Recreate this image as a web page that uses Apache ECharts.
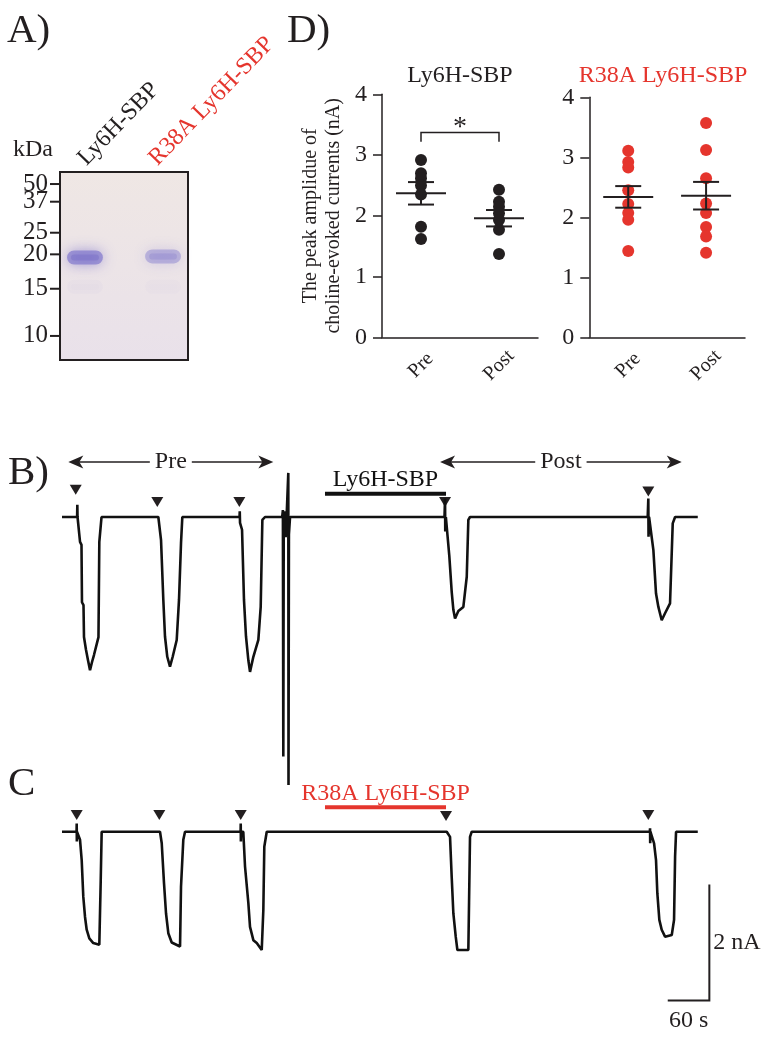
<!DOCTYPE html>
<html><head><meta charset="utf-8">
<script src="https://cdn.jsdelivr.net/npm/echarts/dist/echarts.min.js"></script>
<style>html,body{margin:0;padding:0;background:#fff}#c{width:767px;height:1038px}</style>
</head><body><div id="c"></div>
<script>
const FONT = '"Liberation Serif","Times New Roman",serif';
const INK = '#231f20';
const RED = '#e5352d';

// ---------- Panel A : gel ----------
const lanes = ['Ly6H-SBP', 'R38A Ly6H-SBP'];
const ladderKDa = [50, 37, 25, 20, 15, 10];
const ladderRf = [0.064, 0.158, 0.323, 0.438, 0.621, 0.872];
const bandLane = [0, 1, 0, 1];
const bandRf = [0.455, 0.449, 0.61, 0.61];
const bandIntensity = [0.95, 0.6, 0.04, 0.03];

// ---------- Panel D : peak amplitudes (nA) ----------
const groups = ['Pre', 'Post'];
const ly6hPre = [2.92, 2.70, 2.62, 2.50, 2.35, 1.82, 1.62];
const ly6hPost = [2.43, 2.23, 2.15, 2.04, 1.93, 1.77, 1.37];
const ly6hMean = [2.37, 1.96];
const ly6hSem = [0.185, 0.135];
const r38aPre = [3.11, 2.92, 2.83, 2.45, 2.22, 2.07, 1.96, 1.44];
const r38aPost = [3.57, 3.12, 2.65, 2.23, 2.07, 1.84, 1.68, 1.41];
const r38aMean = [2.34, 2.36];
const r38aSem = [0.18, 0.23];
const yTicksD = [0, 1, 2, 3, 4];
const sigBracket = [0, 1, 3.22, 3.37];

// ---------- Panels B / C : current traces (time s, current nA) ----------
const traceB = [
[0,0],[21.8,0],[22.1,0.21],[22.4,0],[23.8,0],[26.0,-0.43],[28.1,-0.48],[28.8,-1.47],[31.0,-1.52],[31.7,-2.07],[34.6,-2.29],[37.5,-2.47],[40.4,-2.64],[43.3,-2.50],[46.1,-2.38],[50.5,-2.17],[52.6,-2.07],[53.8,-0.43],[55.5,-0.40],[57.0,0],
[138.9,0],[142.8,-0.40],[146.1,-1.43],[148.5,-2.06],[151.8,-2.41],[155.7,-2.58],[159.6,-2.41],[165.4,-2.12],[168.7,-1.43],[171.6,-0.45],[173.5,0],
[256.0,0],[256.3,0.1],[256.7,-0.1],[259.6,-0.22],[262.4,-1.43],[265.3,-2.06],[268.7,-2.47],[271.1,-2.67],[275.9,-2.41],[283.1,-2.12],[286.5,-1.55],[288.9,-0.05],[292.7,0],
[317.5,0],[318.5,0.12],[319.1,-4.13],[319.7,-0.3],[321.0,0.1],[322.5,-0.35],[324.0,0.05],[326.3,0.76],[326.6,-4.62],[327.2,-0.3],[328.8,0],
[551.5,0],[552.3,0.32],[552.6,-0.25],[553.5,0],[554.7,0],[558.5,-0.68],[561.9,-1.29],[564.3,-1.60],[566.7,-1.75],[571.5,-1.62],[578.7,-1.55],[583.6,-1.03],[585.9,-0.05],[588.3,0],
[844.5,0],[845.4,0.32],[845.7,-0.34],[846.5,0],[848.9,0],[852.7,-0.57],[856.5,-1.32],[859.9,-1.55],[864.7,-1.78],[869.5,-1.66],[876.7,-1.49],[880.6,-0.11],[884.0,0],[916.7,0]
];
const traceC = [
[0,0],[21.0,0],[21.2,0.14],[21.4,-0.17],[21.6,0],[23.5,0],[26.0,-0.14],[28.4,-0.49],[30.7,-1.12],[33.2,-1.47],[35.6,-1.69],[39.4,-1.84],[45.1,-1.92],[53.8,-1.95],[55.8,-0.86],[57.2,0],[59.6,0],
[141.3,0],[143.8,-0.20],[147.1,-0.89],[150.0,-1.41],[153.3,-1.75],[158.2,-1.91],[170.2,-1.98],[171.6,-0.95],[174.9,-0.14],[177.4,0],
[257.5,0],[257.7,0.14],[257.9,-0.17],[258.1,0],[261.4,0],[263.9,-0.60],[268.7,-1.23],[271.1,-1.64],[275.9,-1.87],[280.8,-1.92],[288.0,-2.04],[290.3,-1.35],[291.7,-0.26],[295.2,0],
[554.7,0],[559.5,-0.09],[561.9,-0.78],[564.3,-1.41],[567.7,-1.81],[570.1,-2.04],[585.9,-2.04],[586.9,-1.23],[588.3,-0.09],[590.8,0],
[847.6,0],[847.9,0.06],[848.1,-0.20],[848.4,0],[850.3,0],[853.7,-0.20],[856.5,-0.49],[858.4,-1.06],[861.3,-1.52],[864.7,-1.69],[869.5,-1.81],[879.2,-1.78],[882.5,-1.52],[884.0,-0.43],[885.4,0],[916.7,0]
];
const stimB = [19.8, 137.4, 255.7, 552.3, 845.4];
const stimMarkB = [0.47, 0.26, 0.26, 0.26, 0.44];
const stimC = [21.2, 140.3, 257.7, 553.7, 845.4];
const stimMarkC = [0.29, 0.29, 0.29, 0.27, 0.29];
const periodLabels = ['Pre', 'Post'];
const periodStart = [9.1, 545.1];
const periodEnd = [304.7, 893.6];
const periodLevel = 0.95;
const drugB = {name: 'Ly6H-SBP', start: 379.2, end: 553.7, level: 0.40};
const drugC = {name: 'R38A Ly6H-SBP', start: 379.2, end: 553.7, level: 0.42};
const scaleBar = {t0: 873.4, i0: -2.91, dur: 60, amp: 2};

// ---------- helpers ----------
const mctx = document.createElement('canvas').getContext('2d');
function textW(s, size) { mctx.font = size + 'px ' + FONT; return mctx.measureText(s).width; }
const zip = (xs, idx) => xs.map(v => [idx, v]);

function meanSemItem(color) {
  return function (params, api) {
    const x = api.value(0), m = api.value(1), s = api.value(2);
    const pm = api.coord([x, m]), pu = api.coord([x, m + s]), pl = api.coord([x, m - s]);
    const st = {stroke: color, lineWidth: 2};
    return {type: 'group', children: [
      {type: 'line', shape: {x1: pm[0] - 25, y1: pm[1], x2: pm[0] + 25, y2: pm[1]}, style: st},
      {type: 'line', shape: {x1: pu[0] - 13, y1: pu[1], x2: pu[0] + 13, y2: pu[1]}, style: st},
      {type: 'line', shape: {x1: pl[0] - 13, y1: pl[1], x2: pl[0] + 13, y2: pl[1]}, style: st},
      {type: 'line', shape: {x1: pu[0], y1: pu[1], x2: pl[0], y2: pl[1]}, style: st}
    ]};
  };
}

function bracketItem(params, api) {
  const a = api.coord([api.value(0), api.value(3)]), b = api.coord([api.value(1), api.value(3)]);
  const a0 = api.coord([api.value(0), api.value(2)]), b0 = api.coord([api.value(1), api.value(2)]);
  return {type: 'group', children: [
    {type: 'polyline', shape: {points: [a0, a, b, b0]}, style: {stroke: INK, lineWidth: 1.5, fill: null}},
    {type: 'text', x: (a[0] + b[0]) / 2, y: a[1] - 5, style: {text: '*', font: '28px ' + FONT, fill: INK, align: 'center', verticalAlign: 'middle'}}
  ]};
}

function arrowItem(params, api) {
  const a = api.coord([api.value(0), api.value(2)]), b = api.coord([api.value(1), api.value(2)]);
  const label = periodLabels[params.dataIndex];
  const y = a[1], mid = (a[0] + b[0]) / 2, half = textW(label, 24) / 2 + 5;
  const head = (x, d) => ({type: 'polygon', shape: {points: [[x, y], [x + d * 15, y - 6.5], [x + d * 11, y], [x + d * 15, y + 6.5]]}, style: {fill: INK}});
  const st = {stroke: INK, lineWidth: 1.5};
  return {type: 'group', children: [
    {type: 'line', shape: {x1: a[0] + 10, y1: y, x2: mid - half, y2: y}, style: st},
    {type: 'line', shape: {x1: mid + half, y1: y, x2: b[0] - 10, y2: y}, style: st},
    head(a[0], 1), head(b[0], -1),
    {type: 'text', x: mid, y: y, style: {text: label, font: '24px ' + FONT, fill: INK, align: 'center', verticalAlign: 'middle'}}
  ]};
}

function drugItem(drug, color) {
  return function (params, api) {
    const a = api.coord([drug.start, drug.level]), b = api.coord([drug.end, drug.level]);
    return {type: 'group', children: [
      {type: 'line', shape: {x1: a[0], y1: a[1], x2: b[0], y2: b[1]}, style: {stroke: color, lineWidth: 4}},
      {type: 'text', x: (a[0] + b[0]) / 2, y: a[1] - 2, style: {text: drug.name, font: '24px ' + FONT, fill: color, align: 'center', verticalAlign: 'bottom'}}
    ]};
  };
}

function scaleItem(params, api) {
  const p0 = api.coord([scaleBar.t0, scaleBar.i0]);
  const p1 = api.coord([scaleBar.t0 + scaleBar.dur, scaleBar.i0]);
  const p2 = api.coord([scaleBar.t0 + scaleBar.dur, scaleBar.i0 + scaleBar.amp]);
  return {type: 'group', children: [
    {type: 'polyline', shape: {points: [p0, p1, p2]}, style: {stroke: INK, lineWidth: 2, fill: null}},
    {type: 'text', x: p1[0] + 4, y: (p1[1] + p2[1]) / 2, style: {text: scaleBar.amp + ' nA', font: '24px ' + FONT, fill: INK, align: 'left', verticalAlign: 'middle'}},
    {type: 'text', x: (p0[0] + p1[0]) / 2, y: p0[1] + 20, style: {text: scaleBar.dur + ' s', font: '24px ' + FONT, fill: INK, align: 'center', verticalAlign: 'middle'}}
  ]};
}

function bandItem(params, api) {
  const c = api.coord([api.value(0), api.value(1)]);
  const w = api.size([0.46, 0])[0];
  const op = api.value(2);
  return {type: 'group', children: [
    {type: 'rect', shape: {x: c[0] - w / 2, y: c[1] - 7, width: w, height: 14, r: 7},
      style: {fill: 'rgba(125,116,204,' + (op * 0.7) + ')', shadowBlur: 14, shadowColor: 'rgba(125,116,204,' + op + ')'}},
    {type: 'rect', shape: {x: c[0] - w / 2 + 4, y: c[1] - 3, width: w - 8, height: 6, r: 3},
      style: {fill: 'rgba(105,96,192,' + (op * 0.3) + ')', shadowBlur: 8, shadowColor: 'rgba(105,96,192,' + (op * 0.3) + ')'}}
  ]};
}

function ladderItem(params, api) {
  const kda = api.value(0), rf = api.value(1);
  const p = api.coord([-0.32, rf]);
  return {type: 'group', children: [
    {type: 'line', shape: {x1: p[0] - 10, y1: p[1], x2: p[0], y2: p[1]}, style: {stroke: INK, lineWidth: 2}},
    {type: 'text', x: p[0] - 12, y: p[1], style: {text: String(kda), font: '25px ' + FONT, fill: INK, align: 'right', verticalAlign: 'middle'}}
  ]};
}

const axisD = (grid) => ({
  type: 'value', gridIndex: grid, min: 0, max: 4, interval: 1,
  axisLine: {show: true, lineStyle: {color: INK, width: 1.5}},
  axisTick: {show: true, length: 9, lineStyle: {color: INK, width: 1.5}},
  splitLine: {show: false},
  axisLabel: {fontFamily: FONT, fontSize: 24, color: INK, margin: 15, formatter: v => yTicksD.includes(v) ? String(v) : ''}
});
const catD = (grid) => ({
  type: 'category', gridIndex: grid, data: groups,
  axisLine: {lineStyle: {color: INK, width: 1.5}},
  axisTick: {alignWithLabel: true, length: 9, lineStyle: {color: INK, width: 1.5}},
  axisLabel: {fontFamily: FONT, fontSize: 20, color: INK, rotate: 45, align: 'center', verticalAlign: 'middle', margin: 28}
});
const hidden = (grid, min, max) => ({type: 'value', gridIndex: grid, min, max, show: false, splitLine: {show: false}});

const deg = Math.PI / 180;
const option = {
  animation: false,
  grid: [
    {left: 60, top: 172, width: 128, height: 188, show: true, borderColor: INK, borderWidth: 2,
     backgroundColor: {type: 'linear', x: 0, y: 0, x2: 0, y2: 1, colorStops: [{offset: 0, color: '#efe7e4'}, {offset: 1, color: '#e9e1ea'}]}},
    {left: 382, top: 94.3, width: 156, height: 243},
    {left: 589.3, top: 97.3, width: 155.7, height: 240},
    {left: 62, top: 459, width: 665.8, height: 348},
    {left: 62, top: 773.7, width: 665.8, height: 232}
  ],
  xAxis: [
    hidden(0, -0.32, 1.32),
    catD(1), catD(2),
    hidden(3, 0, 960), hidden(4, 0, 960)
  ],
  yAxis: [
    Object.assign(hidden(0, 0, 1), {inverse: true}),
    Object.assign(axisD(1), {name: 'The peak amplidue of\ncholine-evoked currents (nA)', nameLocation: 'middle', nameGap: 37,
      nameTextStyle: {fontFamily: FONT, fontSize: 20, color: INK, lineHeight: 23}}),
    axisD(2),
    hidden(3, -5, 1), hidden(4, -3, 1)
  ],
  graphic: [
    {type: 'text', left: 7, top: 11, style: {text: 'A)', font: '41px ' + FONT, fill: INK}},
    {type: 'text', left: 287, top: 11, style: {text: 'D)', font: '41px ' + FONT, fill: INK}},
    {type: 'text', left: 8, top: 453, style: {text: 'B)', font: '41px ' + FONT, fill: INK}},
    {type: 'text', left: 8, top: 764, style: {text: 'C', font: '41px ' + FONT, fill: INK}},
    {type: 'text', x: 13, y: 150, style: {text: 'kDa', font: '24px ' + FONT, fill: INK, align: 'left', verticalAlign: 'middle'}},
    {type: 'text', x: 82, y: 162, rotation: 46 * deg, style: {text: lanes[0], font: '24px ' + FONT, fill: INK, align: 'left', verticalAlign: 'middle'}},
    {type: 'text', x: 153, y: 162, rotation: 46 * deg, style: {text: lanes[1], font: '24px ' + FONT, fill: RED, align: 'left', verticalAlign: 'middle'}},
    {type: 'text', x: 460, y: 76, style: {text: lanes[0], font: '24px ' + FONT, fill: INK, align: 'center', verticalAlign: 'middle'}},
    {type: 'text', x: 663, y: 76, style: {text: lanes[1], font: '24px ' + FONT, fill: RED, align: 'center', verticalAlign: 'middle'}}
  ],
  series: [
    {type: 'custom', xAxisIndex: 0, yAxisIndex: 0, renderItem: bandItem,
     data: bandLane.map((l, i) => [l, bandRf[i], bandIntensity[i]])},
    {type: 'custom', xAxisIndex: 0, yAxisIndex: 0, renderItem: ladderItem, clip: false,
     data: ladderKDa.map((k, i) => [k, ladderRf[i]])},

    {type: 'scatter', xAxisIndex: 1, yAxisIndex: 1, symbolSize: 12, itemStyle: {color: INK, opacity: 1},
     data: zip(ly6hPre, 0).concat(zip(ly6hPost, 1))},
    {type: 'custom', xAxisIndex: 1, yAxisIndex: 1, renderItem: meanSemItem(INK), z: 5,
     data: ly6hMean.map((m, i) => [i, m, ly6hSem[i]])},
    {type: 'custom', xAxisIndex: 1, yAxisIndex: 1, renderItem: bracketItem, data: [sigBracket]},

    {type: 'scatter', xAxisIndex: 2, yAxisIndex: 2, symbolSize: 12, itemStyle: {color: RED, opacity: 1},
     data: zip(r38aPre, 0).concat(zip(r38aPost, 1))},
    {type: 'custom', xAxisIndex: 2, yAxisIndex: 2, renderItem: meanSemItem(INK), z: 5,
     data: r38aMean.map((m, i) => [i, m, r38aSem[i]])},

    {type: 'line', xAxisIndex: 3, yAxisIndex: 3, data: traceB, showSymbol: false, symbol: 'none',
     lineStyle: {color: '#111', width: 2.6}},
    {type: 'scatter', xAxisIndex: 3, yAxisIndex: 3, symbol: 'triangle', symbolRotate: 180, symbolSize: [12, 10],
     itemStyle: {color: INK, opacity: 1}, data: stimB.map((t, i) => [t, stimMarkB[i]])},
    {type: 'custom', xAxisIndex: 3, yAxisIndex: 3, renderItem: arrowItem,
     data: periodLabels.map((l, i) => [periodStart[i], periodEnd[i], periodLevel])},
    {type: 'custom', xAxisIndex: 3, yAxisIndex: 3, renderItem: drugItem(drugB, '#111'), data: [[drugB.start, drugB.level]]},

    {type: 'line', xAxisIndex: 4, yAxisIndex: 4, data: traceC, showSymbol: false, symbol: 'none',
     lineStyle: {color: '#111', width: 2.6}},
    {type: 'scatter', xAxisIndex: 4, yAxisIndex: 4, symbol: 'triangle', symbolRotate: 180, symbolSize: [12, 10],
     itemStyle: {color: INK, opacity: 1}, data: stimC.map((t, i) => [t, stimMarkC[i]])},
    {type: 'custom', xAxisIndex: 4, yAxisIndex: 4, renderItem: drugItem(drugC, RED), data: [[drugC.start, drugC.level]]},
    {type: 'custom', xAxisIndex: 4, yAxisIndex: 4, renderItem: scaleItem, clip: false, data: [[scaleBar.t0, scaleBar.i0]]}
  ]
};
const chart = echarts.init(document.getElementById('c'), null, {renderer: 'canvas'});
chart.setOption(option);
</script></body></html>
